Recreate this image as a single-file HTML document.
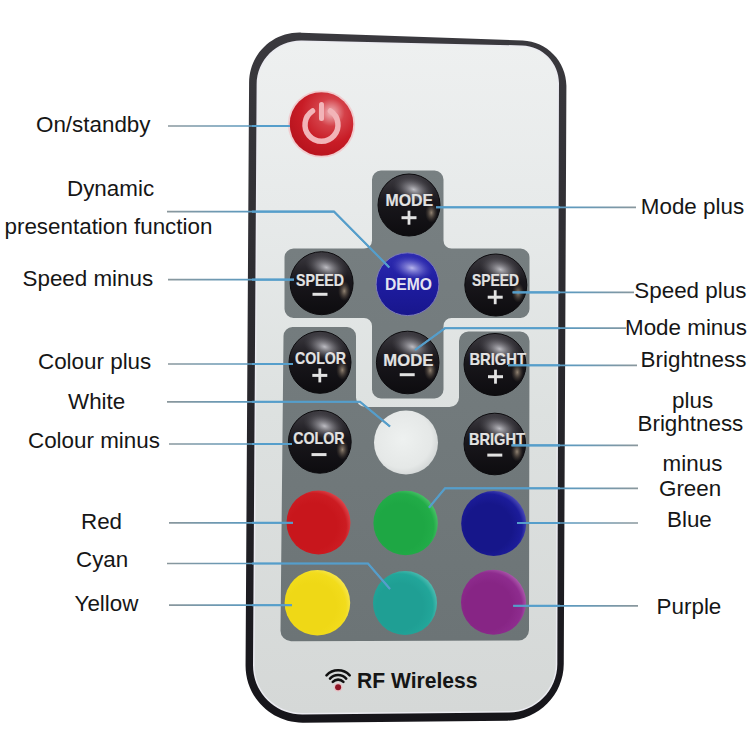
<!DOCTYPE html>
<html><head><meta charset="utf-8"><style>
html,body{margin:0;padding:0;background:#fff;width:750px;height:750px;overflow:hidden}
svg{display:block}
</style></head><body>
<svg width="750" height="750" viewBox="0 0 750 750">
<defs>
 <linearGradient id="body" x1="0" y1="0" x2="0" y2="1">
  <stop offset="0" stop-color="#eef0f0"/>
  <stop offset="0.25" stop-color="#e7eaea"/>
  <stop offset="0.55" stop-color="#dde1e0"/>
  <stop offset="1" stop-color="#d5d8d7"/>
 </linearGradient>
 <linearGradient id="rim" x1="0" y1="0" x2="0" y2="1">
  <stop offset="0" stop-color="#3a393e"/>
  <stop offset="1" stop-color="#16151a"/>
 </linearGradient>
 <linearGradient id="blk" x1="0" y1="0" x2="0" y2="1">
  <stop offset="0" stop-color="#3e3c42"/>
  <stop offset="0.45" stop-color="#19171c"/>
  <stop offset="1" stop-color="#0d0c0f"/>
 </linearGradient>
 <radialGradient id="hl">
  <stop offset="0" stop-color="#d8d8de" stop-opacity="0.85"/>
  <stop offset="0.5" stop-color="#9a99a0" stop-opacity="0.45"/>
  <stop offset="1" stop-color="#55545a" stop-opacity="0"/>
 </radialGradient>
 <radialGradient id="warm">
  <stop offset="0" stop-color="#c8b49a" stop-opacity="0.7"/>
  <stop offset="1" stop-color="#6a5a4a" stop-opacity="0"/>
 </radialGradient>
 <radialGradient id="red" cx="0.42" cy="0.56" r="0.66">
  <stop offset="0" stop-color="#c8161c"/>
  <stop offset="0.55" stop-color="#c8161c"/>
  <stop offset="0.78" stop-color="#cc1c22"/>
  <stop offset="1" stop-color="#e8646a"/>
 </radialGradient>
 <radialGradient id="grn" cx="0.42" cy="0.56" r="0.66">
  <stop offset="0" stop-color="#1ea744"/>
  <stop offset="0.55" stop-color="#1ea744"/>
  <stop offset="0.78" stop-color="#22ac48"/>
  <stop offset="1" stop-color="#66d07e"/>
 </radialGradient>
 <radialGradient id="blu" cx="0.42" cy="0.56" r="0.66">
  <stop offset="0" stop-color="#16168a"/>
  <stop offset="0.55" stop-color="#16168a"/>
  <stop offset="0.78" stop-color="#1c1c9a"/>
  <stop offset="1" stop-color="#6a6acc"/>
 </radialGradient>
 <radialGradient id="yel" cx="0.42" cy="0.56" r="0.66">
  <stop offset="0" stop-color="#efd816"/>
  <stop offset="0.55" stop-color="#efd816"/>
  <stop offset="0.78" stop-color="#f2dc1c"/>
  <stop offset="1" stop-color="#f8ec70"/>
 </radialGradient>
 <radialGradient id="cya" cx="0.42" cy="0.56" r="0.66">
  <stop offset="0" stop-color="#1f9f94"/>
  <stop offset="0.55" stop-color="#1f9f94"/>
  <stop offset="0.78" stop-color="#22a69a"/>
  <stop offset="1" stop-color="#6cccc2"/>
 </radialGradient>
 <radialGradient id="pur" cx="0.42" cy="0.56" r="0.66">
  <stop offset="0" stop-color="#872585"/>
  <stop offset="0.55" stop-color="#872585"/>
  <stop offset="0.78" stop-color="#8e2c8e"/>
  <stop offset="1" stop-color="#c078c0"/>
 </radialGradient>

 <radialGradient id="wht" cx="0.45" cy="0.45" r="0.6">
  <stop offset="0" stop-color="#eef1f0"/>
  <stop offset="0.75" stop-color="#e5e8e7"/>
  <stop offset="1" stop-color="#cfd3d3"/>
 </radialGradient>
 <linearGradient id="dem" x1="0" y1="0" x2="0" y2="1">
  <stop offset="0" stop-color="#2e2cb0"/>
  <stop offset="0.5" stop-color="#1e1ca0"/>
  <stop offset="1" stop-color="#18168c"/>
 </linearGradient>
 <radialGradient id="dhl">
  <stop offset="0" stop-color="#c8c6f4" stop-opacity="0.9"/>
  <stop offset="0.5" stop-color="#8a88dc" stop-opacity="0.5"/>
  <stop offset="1" stop-color="#4a48c0" stop-opacity="0"/>
 </radialGradient>
 <radialGradient id="pwr" cx="0.65" cy="0.32" r="0.72">
  <stop offset="0" stop-color="#f0b8bc"/>
  <stop offset="0.3" stop-color="#d44048"/>
  <stop offset="0.65" stop-color="#c81c26"/>
  <stop offset="1" stop-color="#b8141e"/>
 </radialGradient>
</defs>
<path d="M 249.08 82.80 C 249.26 54.08 272.67 31.62 301.37 32.63 L 522.63 40.45 C 546.91 41.30 566.51 61.70 566.40 86.00 L 563.76 664.10 C 563.61 695.03 538.43 720.34 507.50 720.65 L 303.20 722.64 C 271.17 722.95 245.36 697.23 245.55 665.20 Z" fill="url(#rim)"/>
<path d="M 256.62 84.60 C 256.77 59.75 277.04 40.04 301.89 40.58 L 522.11 45.39 C 542.54 45.84 559.05 62.76 558.99 83.20 L 557.34 664.00 C 557.26 690.51 535.71 712.21 509.20 712.47 L 302.70 714.51 C 275.08 714.78 252.84 692.62 253.01 665.00 Z" fill="#ebebf1"/>
<path d="M 258.13 84.60 C 258.28 60.57 277.87 41.53 301.89 42.06 L 522.11 46.92 C 541.71 47.35 557.55 63.59 557.50 83.20 L 555.83 664.00 C 555.76 689.68 534.88 710.71 509.20 710.96 L 302.70 713.02 C 275.91 713.28 254.34 691.79 254.50 665.00 Z" fill="url(#body)"/>
<linearGradient id="pnl" gradientUnits="userSpaceOnUse" x1="0" y1="170" x2="0" y2="641"><stop offset="0" stop-color="#788082"/><stop offset="1" stop-color="#6c7476"/></linearGradient>
<path d="M 381 170.5 L 434.5 170.5 A 9 9 0 0 1 443.5 179.5 L 443.5 240.5 A 8 8 0 0 0 451.5 248.5 L 520.5 248.5 A 9 9 0 0 1 529.5 257.5 L 529.5 309 A 9 9 0 0 1 520.5 318 L 451.5 318 A 8 8 0 0 0 443.5 326 L 443.5 389.5 A 9 9 0 0 1 434.5 398.5 L 381 398.5 A 9 9 0 0 1 372 389.5 L 372 326 A 8 8 0 0 0 364 318 L 293.5 318 A 9 9 0 0 1 284.5 309 L 284.5 257.5 A 9 9 0 0 1 293.5 248.5 L 364 248.5 A 8 8 0 0 0 372 240.5 L 372 179.5 A 9 9 0 0 1 381 170.5 Z" fill="url(#pnl)"/>
<path d="M 292.5 327 L 347 327 A 9 9 0 0 1 356 336 L 356 397.5 A 9.5 9.5 0 0 0 365.5 407 L 449.5 407 A 9.5 9.5 0 0 0 459 397.5 L 459 341 A 9.5 9.5 0 0 1 468.5 331.5 L 520 331.5 A 9.5 9.5 0 0 1 529.5 341 L 529 630 A 10.5 10.5 0 0 1 518.5 640.5 L 291 641.2 A 10.5 10.5 0 0 1 280.5 630.7 L 283.5 336 A 9 9 0 0 1 292.5 327 Z" fill="url(#pnl)"/>
<circle cx="409" cy="205" r="31" fill="url(#blk)" stroke="#0c0b0e" stroke-width="1"/>
<ellipse cx="413.65" cy="189.5" rx="21.7" ry="13.02" fill="url(#hl)" transform="rotate(18 413.65 189.5)"/>
<ellipse cx="431.32" cy="212.75" rx="6.2" ry="9.92" fill="url(#warm)"/>
<text x="385.5" y="205.7" font-family='"Liberation Sans", sans-serif' font-weight="bold" font-size="17" fill="#e2e2e2" stroke="#e2e2e2" stroke-width="0.2" textLength="47.5" lengthAdjust="spacingAndGlyphs">MODE</text>
<rect x="401.5" y="216.2" width="15" height="3" fill="#e2e2e2"/>
<rect x="407.6" y="210.7" width="2.8" height="14" fill="#e2e2e2"/>
<circle cx="321.6" cy="283.2" r="31.5" fill="url(#blk)" stroke="#0c0b0e" stroke-width="1"/>
<ellipse cx="326.32500000000005" cy="267.45" rx="22.049999999999997" ry="13.229999999999999" fill="url(#hl)" transform="rotate(18 326.32500000000005 267.45)"/>
<ellipse cx="344.28000000000003" cy="291.075" rx="6.300000000000001" ry="10.08" fill="url(#warm)"/>
<text x="296" y="286" font-family='"Liberation Sans", sans-serif' font-weight="bold" font-size="17" fill="#e2e2e2" stroke="#e2e2e2" stroke-width="0.2" textLength="48" lengthAdjust="spacingAndGlyphs">SPEED</text>
<rect x="312.5" y="292.8" width="15" height="3" fill="#e2e2e2"/>
<circle cx="495.8" cy="285" r="31" fill="url(#blk)" stroke="#0c0b0e" stroke-width="1"/>
<ellipse cx="500.45" cy="269.5" rx="21.7" ry="13.02" fill="url(#hl)" transform="rotate(18 500.45 269.5)"/>
<ellipse cx="518.12" cy="292.75" rx="6.2" ry="9.92" fill="url(#warm)"/>
<text x="472" y="286" font-family='"Liberation Sans", sans-serif' font-weight="bold" font-size="17" fill="#e2e2e2" stroke="#e2e2e2" stroke-width="0.2" textLength="47" lengthAdjust="spacingAndGlyphs">SPEED</text>
<rect x="487.7" y="295.7" width="15" height="3" fill="#e2e2e2"/>
<rect x="493.8" y="290.2" width="2.8" height="14" fill="#e2e2e2"/>
<circle cx="320" cy="362.3" r="31" fill="url(#blk)" stroke="#0c0b0e" stroke-width="1"/>
<ellipse cx="324.65" cy="346.8" rx="21.7" ry="13.02" fill="url(#hl)" transform="rotate(18 324.65 346.8)"/>
<ellipse cx="342.32" cy="370.05" rx="6.2" ry="9.92" fill="url(#warm)"/>
<text x="295" y="364" font-family='"Liberation Sans", sans-serif' font-weight="bold" font-size="17" fill="#e2e2e2" stroke="#e2e2e2" stroke-width="0.2" textLength="51" lengthAdjust="spacingAndGlyphs">COLOR</text>
<rect x="312.3" y="373.9" width="15" height="3" fill="#e2e2e2"/>
<rect x="318.40000000000003" y="368.4" width="2.8" height="14" fill="#e2e2e2"/>
<circle cx="407.7" cy="362.5" r="31.3" fill="url(#blk)" stroke="#0c0b0e" stroke-width="1"/>
<ellipse cx="412.395" cy="346.85" rx="21.91" ry="13.145999999999999" fill="url(#hl)" transform="rotate(18 412.395 346.85)"/>
<ellipse cx="430.236" cy="370.325" rx="6.260000000000001" ry="10.016" fill="url(#warm)"/>
<text x="383.3" y="366.3" font-family='"Liberation Sans", sans-serif' font-weight="bold" font-size="17" fill="#e2e2e2" stroke="#e2e2e2" stroke-width="0.2" textLength="50.0" lengthAdjust="spacingAndGlyphs">MODE</text>
<rect x="399.7" y="373.2" width="15" height="3" fill="#e2e2e2"/>
<circle cx="495" cy="364.5" r="31" fill="url(#blk)" stroke="#0c0b0e" stroke-width="1"/>
<ellipse cx="499.65" cy="349.0" rx="21.7" ry="13.02" fill="url(#hl)" transform="rotate(18 499.65 349.0)"/>
<ellipse cx="517.32" cy="372.25" rx="6.2" ry="9.92" fill="url(#warm)"/>
<text x="469.4" y="365" font-family='"Liberation Sans", sans-serif' font-weight="bold" font-size="17" fill="#e2e2e2" stroke="#e2e2e2" stroke-width="0.2" textLength="56.60000000000002" lengthAdjust="spacingAndGlyphs">BRIGHT</text>
<rect x="488.0" y="375.2" width="15" height="3" fill="#e2e2e2"/>
<rect x="494.1" y="369.7" width="2.8" height="14" fill="#e2e2e2"/>
<circle cx="319.8" cy="441.8" r="31.4" fill="url(#blk)" stroke="#0c0b0e" stroke-width="1"/>
<ellipse cx="324.51" cy="426.1" rx="21.979999999999997" ry="13.187999999999999" fill="url(#hl)" transform="rotate(18 324.51 426.1)"/>
<ellipse cx="342.408" cy="449.65000000000003" rx="6.28" ry="10.048" fill="url(#warm)"/>
<text x="293.3" y="444" font-family='"Liberation Sans", sans-serif' font-weight="bold" font-size="17" fill="#e2e2e2" stroke="#e2e2e2" stroke-width="0.2" textLength="51.19999999999999" lengthAdjust="spacingAndGlyphs">COLOR</text>
<rect x="311.5" y="453.1" width="15" height="3" fill="#e2e2e2"/>
<circle cx="494.8" cy="444" r="30.8" fill="url(#blk)" stroke="#0c0b0e" stroke-width="1"/>
<ellipse cx="499.42" cy="428.6" rx="21.56" ry="12.936" fill="url(#hl)" transform="rotate(18 499.42 428.6)"/>
<ellipse cx="516.976" cy="451.7" rx="6.16" ry="9.856" fill="url(#warm)"/>
<text x="468.9" y="445" font-family='"Liberation Sans", sans-serif' font-weight="bold" font-size="17" fill="#e2e2e2" stroke="#e2e2e2" stroke-width="0.2" textLength="56.10000000000002" lengthAdjust="spacingAndGlyphs">BRIGHT</text>
<rect x="487.3" y="453.6" width="15" height="3" fill="#e2e2e2"/>
<circle cx="407.5" cy="284.2" r="31.4" fill="url(#dem)" stroke="#7c7ab8" stroke-width="1"/>
<ellipse cx="412" cy="268" rx="21" ry="12" fill="url(#dhl)" transform="rotate(12 412 268)"/>
<text x="385" y="289.8" font-family='"Liberation Sans", sans-serif' font-weight="bold" font-size="17" fill="#e4e4f0" textLength="47" lengthAdjust="spacingAndGlyphs">DEMO</text>
<circle cx="321.5" cy="124" r="32.5" fill="none" stroke="#f2c4c8" stroke-width="2.2" opacity="0.8"/>
<circle cx="321.5" cy="124" r="31.8" fill="url(#pwr)"/>
<path d="M 312.5 111 A 16.5 16.5 0 1 0 330.5 111" fill="none" stroke="#f2b4b8" stroke-width="5.5" stroke-linecap="round"/>
<rect x="319" y="102" width="5" height="19" rx="2.5" fill="#f2b4b8"/>
<circle cx="406" cy="442.5" r="32" fill="url(#wht)"/>
<circle cx="318.5" cy="522.5" r="32" fill="url(#red)"/>
<circle cx="405.6" cy="523" r="32.2" fill="url(#grn)"/>
<circle cx="493.7" cy="523.5" r="32.5" fill="url(#blu)"/>
<circle cx="317.4" cy="602.8" r="32.8" fill="url(#yel)"/>
<circle cx="405" cy="603" r="32" fill="url(#cya)"/>
<circle cx="493.5" cy="602.3" r="32.5" fill="url(#pur)"/>
<text x="357" y="687.5" font-family='"Liberation Sans", sans-serif' font-weight="bold" font-size="22" fill="#151515" textLength="120.5" lengthAdjust="spacingAndGlyphs">RF Wireless</text>
<path d="M 326.5 675.3 A 16 16 0 0 1 349.7 675.3" fill="none" stroke="#111" stroke-width="2.6" stroke-linecap="round"/>
<path d="M 330 678.6 A 11 11 0 0 1 346.2 678.6" fill="none" stroke="#111" stroke-width="2.6" stroke-linecap="round"/>
<path d="M 332.8 681.8 A 7.5 7.5 0 0 1 343.4 681.8" fill="none" stroke="#111" stroke-width="2.6" stroke-linecap="round"/>
<circle cx="338.1" cy="687.3" r="4.3" fill="#f0b4bb" opacity="0.7"/>
<circle cx="338.1" cy="687.3" r="3" fill="#8c1424"/>
<linearGradient id="lgL" gradientUnits="userSpaceOnUse" x1="168" y1="0" x2="250" y2="0"><stop offset="0" stop-color="#8a979c"/><stop offset="1" stop-color="#5b9ac0"/></linearGradient>
<linearGradient id="lgR" gradientUnits="userSpaceOnUse" x1="638" y1="0" x2="566" y2="0"><stop offset="0" stop-color="#8a979c"/><stop offset="1" stop-color="#5b9ac0"/></linearGradient>
<clipPath id="inclip"><rect x="252" y="40" width="308" height="675"/></clipPath>
<path d="M 168 126 L 290 126" fill="none" stroke="url(#lgL)" stroke-width="1.7"/>
<path d="M 168 126 L 290 126" fill="none" stroke="#559ecb" stroke-width="2.1" clip-path="url(#inclip)"/>
<path d="M 167 211.6 L 334 211.6 L 389.3 267.4" fill="none" stroke="url(#lgL)" stroke-width="1.7"/>
<path d="M 167 211.6 L 334 211.6 L 389.3 267.4" fill="none" stroke="#559ecb" stroke-width="2.1" clip-path="url(#inclip)"/>
<path d="M 168 279.6 L 294 279.6" fill="none" stroke="url(#lgL)" stroke-width="1.7"/>
<path d="M 168 279.6 L 294 279.6" fill="none" stroke="#559ecb" stroke-width="2.1" clip-path="url(#inclip)"/>
<path d="M 168 364 L 293 364" fill="none" stroke="url(#lgL)" stroke-width="1.7"/>
<path d="M 168 364 L 293 364" fill="none" stroke="#559ecb" stroke-width="2.1" clip-path="url(#inclip)"/>
<path d="M 167 401.8 L 360 401.8 L 390 426.5" fill="none" stroke="url(#lgL)" stroke-width="1.7"/>
<path d="M 167 401.8 L 360 401.8 L 390 426.5" fill="none" stroke="#559ecb" stroke-width="2.1" clip-path="url(#inclip)"/>
<path d="M 169 444 L 292 444" fill="none" stroke="url(#lgL)" stroke-width="1.7"/>
<path d="M 169 444 L 292 444" fill="none" stroke="#559ecb" stroke-width="2.1" clip-path="url(#inclip)"/>
<path d="M 169 522.8 L 293 522.8" fill="none" stroke="url(#lgL)" stroke-width="1.7"/>
<path d="M 169 522.8 L 293 522.8" fill="none" stroke="#559ecb" stroke-width="2.1" clip-path="url(#inclip)"/>
<path d="M 167 563.5 L 368 563.5 L 390 589" fill="none" stroke="url(#lgL)" stroke-width="1.7"/>
<path d="M 167 563.5 L 368 563.5 L 390 589" fill="none" stroke="#559ecb" stroke-width="2.1" clip-path="url(#inclip)"/>
<path d="M 169 605.2 L 292 605.2" fill="none" stroke="url(#lgL)" stroke-width="1.7"/>
<path d="M 169 605.2 L 292 605.2" fill="none" stroke="#559ecb" stroke-width="2.1" clip-path="url(#inclip)"/>
<path d="M 436 207.3 L 636 207.3" fill="none" stroke="url(#lgR)" stroke-width="1.7"/>
<path d="M 436 207.3 L 636 207.3" fill="none" stroke="#559ecb" stroke-width="2.1" clip-path="url(#inclip)"/>
<path d="M 512.6 292.4 L 634 292.4" fill="none" stroke="url(#lgR)" stroke-width="1.7"/>
<path d="M 512.6 292.4 L 634 292.4" fill="none" stroke="#559ecb" stroke-width="2.1" clip-path="url(#inclip)"/>
<path d="M 415 350 L 445 328.2 L 626 328.2" fill="none" stroke="url(#lgR)" stroke-width="1.7"/>
<path d="M 415 350 L 445 328.2 L 626 328.2" fill="none" stroke="#559ecb" stroke-width="2.1" clip-path="url(#inclip)"/>
<path d="M 508 365.3 L 637 365.3" fill="none" stroke="url(#lgR)" stroke-width="1.7"/>
<path d="M 508 365.3 L 637 365.3" fill="none" stroke="#559ecb" stroke-width="2.1" clip-path="url(#inclip)"/>
<path d="M 511.5 445.4 L 638 445.4" fill="none" stroke="url(#lgR)" stroke-width="1.7"/>
<path d="M 511.5 445.4 L 638 445.4" fill="none" stroke="#559ecb" stroke-width="2.1" clip-path="url(#inclip)"/>
<path d="M 429 507.6 L 445 488.3 L 638 488.3" fill="none" stroke="url(#lgR)" stroke-width="1.7"/>
<path d="M 429 507.6 L 445 488.3 L 638 488.3" fill="none" stroke="#559ecb" stroke-width="2.1" clip-path="url(#inclip)"/>
<path d="M 517 523 L 638 523" fill="none" stroke="url(#lgR)" stroke-width="1.7"/>
<path d="M 517 523 L 638 523" fill="none" stroke="#559ecb" stroke-width="2.1" clip-path="url(#inclip)"/>
<path d="M 513.2 605.8 L 638 605.8" fill="none" stroke="url(#lgR)" stroke-width="1.7"/>
<path d="M 513.2 605.8 L 638 605.8" fill="none" stroke="#559ecb" stroke-width="2.1" clip-path="url(#inclip)"/>
<text x="36" y="132.4" font-family='"Liberation Sans", sans-serif' font-size="22.4" fill="#161616">On/standby</text>
<text x="67" y="195.6" font-family='"Liberation Sans", sans-serif' font-size="22.4" fill="#161616">Dynamic</text>
<text x="4.5" y="234" font-family='"Liberation Sans", sans-serif' font-size="22.4" fill="#161616">presentation function</text>
<text x="22.5" y="285.8" font-family='"Liberation Sans", sans-serif' font-size="22.4" fill="#161616">Speed minus</text>
<text x="38" y="369.3" font-family='"Liberation Sans", sans-serif' font-size="22.4" fill="#161616">Colour plus</text>
<text x="68" y="409" font-family='"Liberation Sans", sans-serif' font-size="22.4" fill="#161616">White</text>
<text x="28" y="447.6" font-family='"Liberation Sans", sans-serif' font-size="22.4" fill="#161616">Colour minus</text>
<text x="81" y="529.3" font-family='"Liberation Sans", sans-serif' font-size="22.4" fill="#161616">Red</text>
<text x="76" y="566.9" font-family='"Liberation Sans", sans-serif' font-size="22.4" fill="#161616">Cyan</text>
<text x="74.5" y="610.6" font-family='"Liberation Sans", sans-serif' font-size="22.4" fill="#161616">Yellow</text>
<text x="640.8" y="213.8" font-family='"Liberation Sans", sans-serif' font-size="22.4" fill="#161616">Mode plus</text>
<text x="634.3" y="298" font-family='"Liberation Sans", sans-serif' font-size="22.4" fill="#161616">Speed plus</text>
<text x="625" y="334.8" font-family='"Liberation Sans", sans-serif' font-size="22.4" fill="#161616">Mode minus</text>
<text x="640.6" y="367.4" font-family='"Liberation Sans", sans-serif' font-size="22.4" fill="#161616">Brightness</text>
<text x="672" y="407.9" font-family='"Liberation Sans", sans-serif' font-size="22.4" fill="#161616">plus</text>
<text x="637.5" y="431" font-family='"Liberation Sans", sans-serif' font-size="22.4" fill="#161616">Brightness</text>
<text x="662.6" y="470.7" font-family='"Liberation Sans", sans-serif' font-size="22.4" fill="#161616">minus</text>
<text x="659" y="495.7" font-family='"Liberation Sans", sans-serif' font-size="22.4" fill="#161616">Green</text>
<text x="667" y="526.7" font-family='"Liberation Sans", sans-serif' font-size="22.4" fill="#161616">Blue</text>
<text x="656.6" y="613.9" font-family='"Liberation Sans", sans-serif' font-size="22.4" fill="#161616">Purple</text></svg>
</body></html>
